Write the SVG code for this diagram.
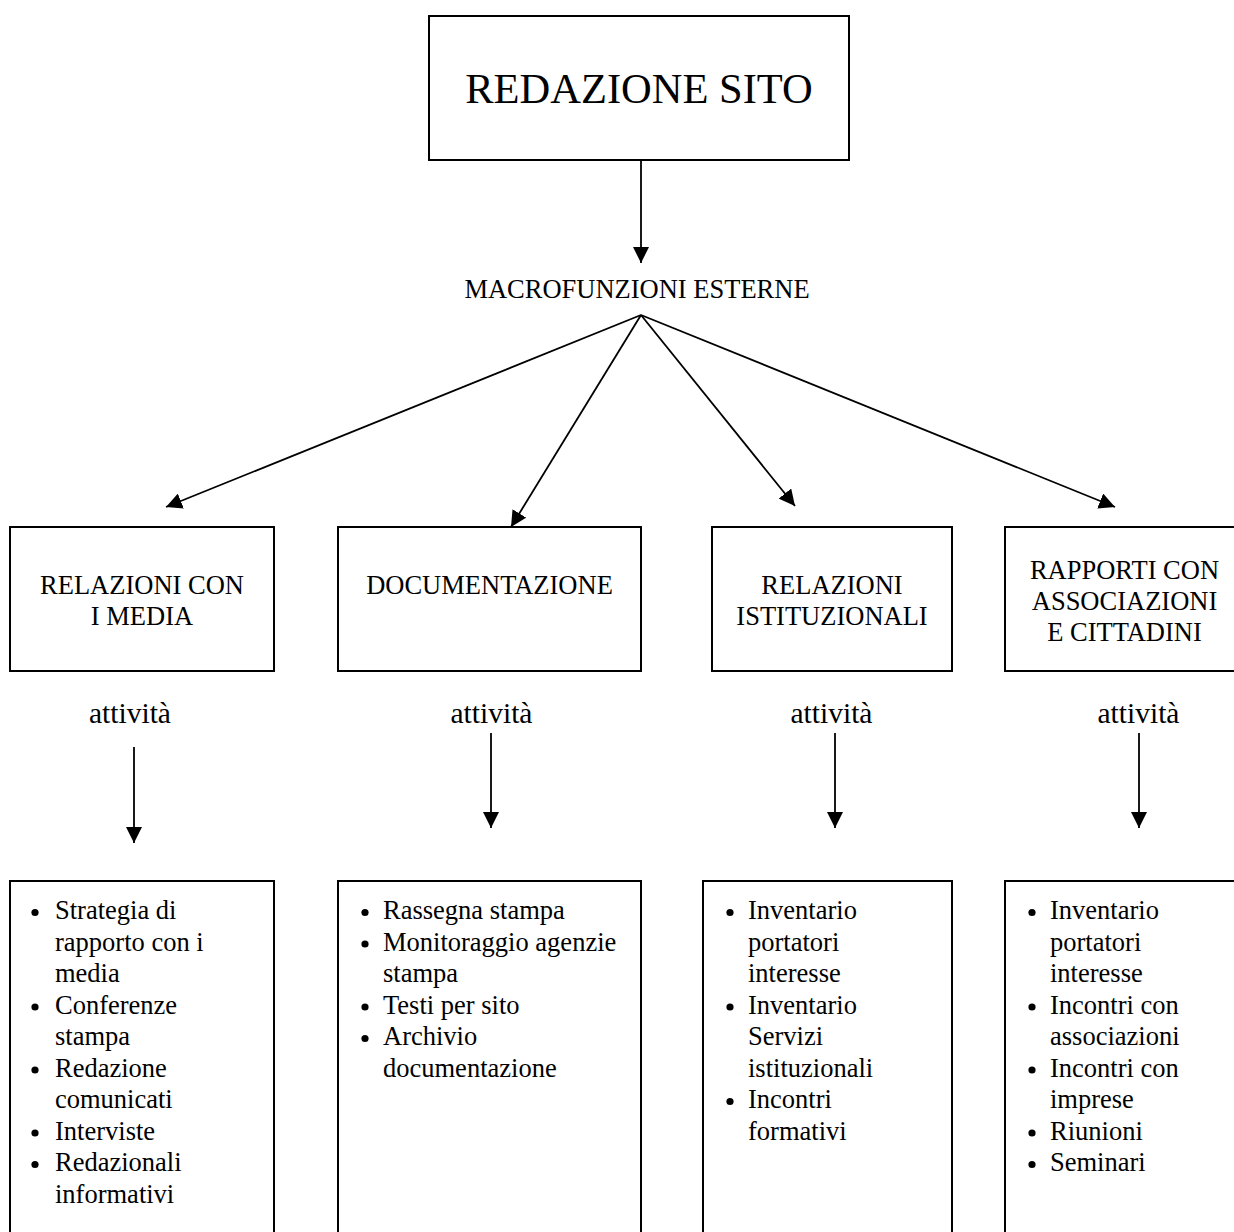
<svg xmlns="http://www.w3.org/2000/svg" width="1234" height="1232" viewBox="0 0 1234 1232">
<style>
  .box { fill: #fff; stroke: #000; stroke-width: 2; }
  .t { font-family: "Liberation Serif", "Times New Roman", serif; fill: #000; }
  .lbl { font-size: 26.5px; text-anchor: middle; }
  .act { font-size: 29.5px; text-anchor: middle; }
  .li { font-size: 26.5px; }
  .conn { stroke: #000; stroke-width: 1.8; fill: none; marker-end: url(#ah); }
  .dot { fill: #000; }
</style>
<defs>
  <marker id="ah" markerUnits="userSpaceOnUse" markerWidth="17" markerHeight="16" refX="16" refY="8" orient="auto">
    <path d="M0,0 L16,8 L0,16 z" fill="#000"/>
  </marker>
</defs>
<rect width="1234" height="1232" fill="#fff"/>

<g id="connectors">
  <line class="conn" x1="641" y1="160" x2="641" y2="263"/>
  <line class="conn" x1="641" y1="315" x2="166" y2="507"/>
  <line class="conn" x1="641" y1="315" x2="511" y2="527"/>
  <line class="conn" x1="641" y1="315" x2="795" y2="506"/>
  <line class="conn" x1="641" y1="315" x2="1115" y2="507"/>
  <line class="conn" x1="134" y1="747" x2="134" y2="843"/>
  <line class="conn" x1="491" y1="733" x2="491" y2="828"/>
  <line class="conn" x1="835" y1="733" x2="835" y2="828"/>
  <line class="conn" x1="1139" y1="733" x2="1139" y2="828"/>
</g>

<g id="redazione-sito">
  <rect class="box" x="429" y="16" width="420" height="144"/>
  <text class="t" x="639" y="103" font-size="42.5" text-anchor="middle">REDAZIONE SITO</text>
</g>

<g id="macrofunzioni">
  <text class="t lbl" x="637" y="298">MACROFUNZIONI ESTERNE</text>
</g>

<g id="relazioni-media">
  <rect class="box" x="10" y="527" width="264" height="144"/>
  <text class="t lbl" x="142" y="594">RELAZIONI CON</text>
  <text class="t lbl" x="142" y="625">I MEDIA</text>
</g>

<g id="documentazione">
  <rect class="box" x="338" y="527" width="303" height="144"/>
  <text class="t lbl" x="489.5" y="594">DOCUMENTAZIONE</text>
</g>

<g id="relazioni-istituzionali">
  <rect class="box" x="712" y="527" width="240" height="144"/>
  <text class="t lbl" x="832" y="594">RELAZIONI</text>
  <text class="t lbl" x="832" y="625">ISTITUZIONALI</text>
</g>

<g id="rapporti-associazioni">
  <rect class="box" x="1005" y="527" width="260" height="144"/>
  <text class="t lbl" x="1124.5" y="579">RAPPORTI CON</text>
  <text class="t lbl" x="1124.5" y="610">ASSOCIAZIONI</text>
  <text class="t lbl" x="1124.5" y="641">E CITTADINI</text>
</g>

<g id="attivita-labels">
  <text class="t act" x="130" y="723">attività</text>
  <text class="t act" x="491.5" y="723">attività</text>
  <text class="t act" x="831.5" y="723">attività</text>
  <text class="t act" x="1138.5" y="723">attività</text>
</g>

<g id="attivita-media">
  <rect class="box" x="10" y="881" width="264" height="370"/>
  <circle class="dot" cx="35" cy="912.5" r="3.6"/>
  <circle class="dot" cx="35" cy="1007" r="3.6"/>
  <circle class="dot" cx="35" cy="1070" r="3.6"/>
  <circle class="dot" cx="35" cy="1133" r="3.6"/>
  <circle class="dot" cx="35" cy="1164.5" r="3.6"/>
  <text class="t li" x="55" y="919">Strategia di</text>
  <text class="t li" x="55" y="950.5">rapporto con i</text>
  <text class="t li" x="55" y="982">media</text>
  <text class="t li" x="55" y="1013.5">Conferenze</text>
  <text class="t li" x="55" y="1045">stampa</text>
  <text class="t li" x="55" y="1076.5">Redazione</text>
  <text class="t li" x="55" y="1108">comunicati</text>
  <text class="t li" x="55" y="1139.5">Interviste</text>
  <text class="t li" x="55" y="1171">Redazionali</text>
  <text class="t li" x="55" y="1202.5">informativi</text>
</g>

<g id="attivita-documentazione">
  <rect class="box" x="338" y="881" width="303" height="370"/>
  <circle class="dot" cx="365" cy="912.5" r="3.6"/>
  <circle class="dot" cx="365" cy="944" r="3.6"/>
  <circle class="dot" cx="365" cy="1007" r="3.6"/>
  <circle class="dot" cx="365" cy="1038.5" r="3.6"/>
  <text class="t li" x="383" y="919">Rassegna stampa</text>
  <text class="t li" x="383" y="950.5">Monitoraggio agenzie</text>
  <text class="t li" x="383" y="982">stampa</text>
  <text class="t li" x="383" y="1013.5">Testi per sito</text>
  <text class="t li" x="383" y="1045">Archivio</text>
  <text class="t li" x="383" y="1076.5">documentazione</text>
</g>

<g id="attivita-istituzionali">
  <rect class="box" x="703" y="881" width="249" height="370"/>
  <circle class="dot" cx="730" cy="912.5" r="3.6"/>
  <circle class="dot" cx="730" cy="1007" r="3.6"/>
  <circle class="dot" cx="730" cy="1101.5" r="3.6"/>
  <text class="t li" x="748" y="919">Inventario</text>
  <text class="t li" x="748" y="950.5">portatori</text>
  <text class="t li" x="748" y="982">interesse</text>
  <text class="t li" x="748" y="1013.5">Inventario</text>
  <text class="t li" x="748" y="1045">Servizi</text>
  <text class="t li" x="748" y="1076.5">istituzionali</text>
  <text class="t li" x="748" y="1108">Incontri</text>
  <text class="t li" x="748" y="1139.5">formativi</text>
</g>

<g id="attivita-associazioni">
  <rect class="box" x="1005" y="881" width="260" height="370"/>
  <circle class="dot" cx="1032" cy="912.5" r="3.6"/>
  <circle class="dot" cx="1032" cy="1007" r="3.6"/>
  <circle class="dot" cx="1032" cy="1070" r="3.6"/>
  <circle class="dot" cx="1032" cy="1133" r="3.6"/>
  <circle class="dot" cx="1032" cy="1164.5" r="3.6"/>
  <text class="t li" x="1050" y="919">Inventario</text>
  <text class="t li" x="1050" y="950.5">portatori</text>
  <text class="t li" x="1050" y="982">interesse</text>
  <text class="t li" x="1050" y="1013.5">Incontri con</text>
  <text class="t li" x="1050" y="1045">associazioni</text>
  <text class="t li" x="1050" y="1076.5">Incontri con</text>
  <text class="t li" x="1050" y="1108">imprese</text>
  <text class="t li" x="1050" y="1139.5">Riunioni</text>
  <text class="t li" x="1050" y="1171">Seminari</text>
</g>
</svg>
